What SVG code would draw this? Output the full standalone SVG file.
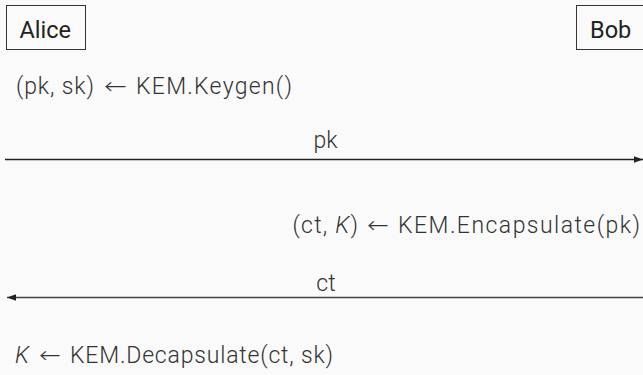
<svg xmlns="http://www.w3.org/2000/svg" width="643" height="375" viewBox="0 0 643 375">
<style>
text{font-family:Roboto,"Liberation Sans",sans-serif;font-size:23px;fill:#333;font-weight:300}
.box{fill:#fafafa;stroke:#333;stroke-width:1}
.name{font-weight:400;fill:#222;font-size:23.5px}
.line{stroke:#222;stroke-width:1.3;fill:none}
.it{font-style:italic}
.arr{font-family:"DejaVu Sans",sans-serif;font-weight:200}
</style>
<defs>
<marker id="ah" viewBox="0 0 10 10" refX="10" refY="5" markerWidth="9" markerHeight="8" orient="auto-start-reverse" markerUnits="userSpaceOnUse" preserveAspectRatio="none">
<path d="M0,1 L10,5 L0,9 Z" fill="#222"/>
</marker>
</defs>
<rect width="643" height="375" fill="#fafafa"/>
<g id="alice"><rect class="box" x="6.5" y="5.5" width="79" height="44"/><text class="name" x="19.5" y="38">Alice</text></g>
<g id="bob"><rect class="box" x="576.5" y="5.5" width="80" height="44"/><text class="name" x="590" y="38">Bob</text></g>
<g id="keygen"><text y="93.5"><tspan x="16" textLength="78">(pk, sk)</tspan><tspan x="104" class="arr" textLength="23" lengthAdjust="spacingAndGlyphs">←</tspan><tspan x="136" textLength="156">KEM.Keygen()</tspan></text></g>
<g id="encap"><text y="233"><tspan x="292.5" textLength="65.5">(ct, <tspan class="it">K</tspan>)</tspan><tspan x="367" class="arr" textLength="22" lengthAdjust="spacingAndGlyphs">←</tspan><tspan x="398" textLength="242">KEM.Encapsulate(pk)</tspan></text></g>
<g id="decap"><text y="363"><tspan x="15" class="it">K</tspan><tspan x="39" class="arr" textLength="22" lengthAdjust="spacingAndGlyphs">←</tspan><tspan x="70" textLength="263">KEM.Decapsulate(ct, sk)</tspan></text></g>
<g id="connectors">
<line class="line" x1="5" y1="159.5" x2="643" y2="159.5" marker-end="url(#ah)"/>
<text x="325.5" y="148" text-anchor="middle">pk</text>
<line class="line" x1="643" y1="297.5" x2="7" y2="297.5" marker-end="url(#ah)" style="stroke:#444"/>
<text x="326" y="290.5" text-anchor="middle">ct</text>
</g>
</svg>
